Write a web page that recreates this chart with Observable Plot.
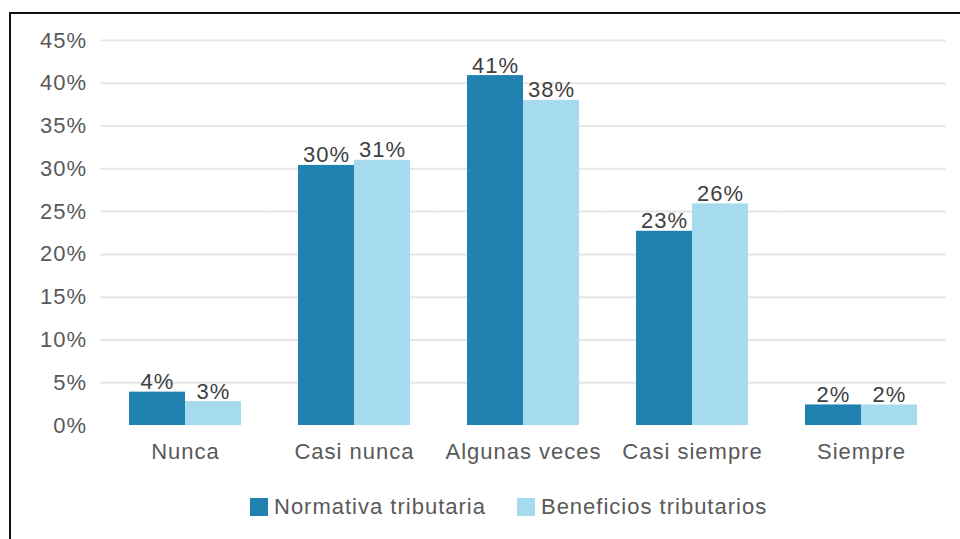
<!DOCTYPE html>
<html>
<head>
<meta charset="utf-8">
<script src="https://cdn.jsdelivr.net/npm/d3@7"></script>
<script src="https://cdn.jsdelivr.net/npm/@observablehq/plot@0.6"></script>
<style>
  html, body { margin: 0; padding: 0; background: #fff; }
  #wrap { position: relative; width: 960px; height: 539px; overflow: hidden; font-family: "Liberation Sans", Arial, sans-serif; }
  #frame { position: absolute; left: 9px; top: 12px; width: 1000px; height: 600px; border-left: 2px solid #111; border-top: 2px solid #111; box-sizing: border-box; }
  #chart { position: absolute; left: 0; top: 0; }
  #chart svg text { letter-spacing: 1px; }
  #legend { position: absolute; left: 250px; top: 494px; display: flex; align-items: center; font-size: 22px; color: #595959; letter-spacing: 1px; }
  .item { display: flex; align-items: center; margin-right: 31px; }
  .sw { width: 18px; height: 18px; margin-right: 6px; }
</style>
</head>
<body>
<div id="wrap">
  <div id="frame"></div>
  <div id="chart"></div>
  <div id="legend"></div>
</div>
<script>
const categories = ["Nunca", "Casi nunca", "Algunas veces", "Casi siempre", "Siempre"];
const series = ["Normativa tributaria", "Beneficios tributarios"];
const normativa = [3.9, 30.4, 40.9, 22.7, 2.4];
const beneficios = [2.8, 31.0, 38.0, 25.9, 2.4];
const normativaLabels = ["4%", "30%", "41%", "23%", "2%"];
const beneficiosLabels = ["3%", "31%", "38%", "26%", "2%"];
const yTicks = [0, 5, 10, 15, 20, 25, 30, 35, 40, 45];
const colors = ["#2181b0", "#a6dbef"];

const data = [];
categories.forEach((c, i) => {
  data.push({cat: c, series: series[0], value: normativa[i], label: normativaLabels[i]});
  data.push({cat: c, series: series[1], value: beneficios[i], label: beneficiosLabels[i]});
});

const chart = Plot.plot({
  width: 960,
  height: 470,
  marginLeft: 98,
  marginRight: 12,
  marginTop: 40,
  marginBottom: 45,
  style: {fontFamily: "'Liberation Sans', Arial, sans-serif", fontSize: "22px", color: "#595959", background: "transparent", overflow: "visible"},
  fx: {domain: categories, paddingInner: 0.335, paddingOuter: 0.1676, label: null, tickSize: 0, tickPadding: 18, axis: "bottom"},
  x: {domain: series, padding: 0, axis: null},
  y: {domain: [0, 45], ticks: yTicks, tickFormat: d => d + "%", tickSize: 0, tickPadding: 42.5, label: null},
  color: {domain: series, range: colors},
  marks: [
    Plot.ruleY(yTicks.slice(1), {stroke: "#e6e6e6", strokeWidth: 2, insetLeft: -28.5, insetRight: -28.5}),
    Plot.barY(data, {fx: "cat", x: "series", y: "value", fill: "series"}),
    Plot.text(data, {fx: "cat", x: "series", y: "value", text: "label", dy: -3, lineAnchor: "bottom", fill: "#404040", fontSize: 22})
  ]
});
document.getElementById("chart").appendChild(chart);

const legend = document.getElementById("legend");
series.forEach((s, i) => {
  const item = document.createElement("div");
  item.className = "item";
  const sw = document.createElement("div");
  sw.className = "sw";
  sw.style.background = colors[i];
  const t = document.createElement("span");
  t.textContent = s;
  item.appendChild(sw);
  item.appendChild(t);
  legend.appendChild(item);
});
</script>
</body>
</html>
